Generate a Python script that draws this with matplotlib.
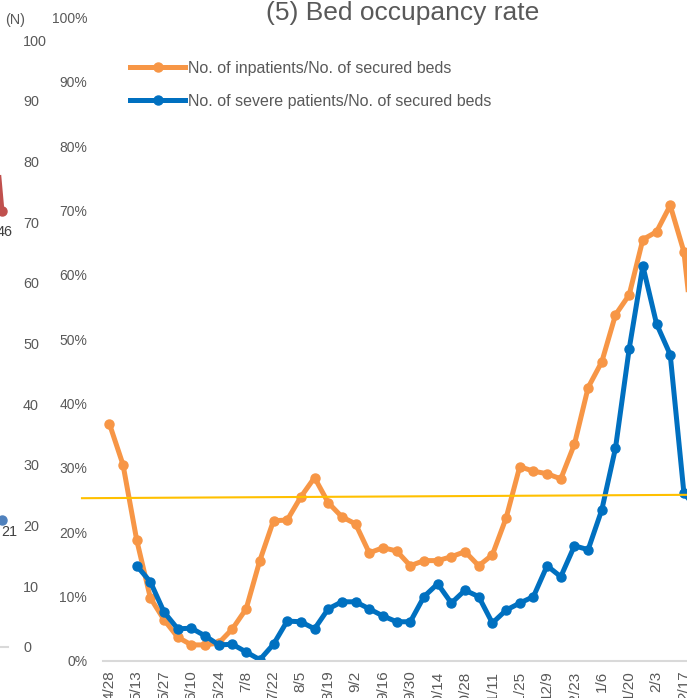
import numpy as np
import matplotlib.pyplot as plt
from matplotlib.lines import Line2D

plt.rcParams['font.family'] = ['Liberation Sans', 'DejaVu Sans']

# --- data -------------------------------------------------------------
TITLE = "(5) Bed occupancy rate"
LBL_INPAT = "No. of inpatients/No. of secured beds"
LBL_SEVERE = "No. of severe patients/No. of secured beds"

# weekly points, labels every second week
week_labels = ["4/28", "5/13", "5/27", "6/10", "6/24", "7/8", "7/22", "8/5",
               "8/19", "9/2", "9/16", "9/30", "10/14", "10/28", "11/11",
               "11/25", "12/9", "12/23", "1/6", "1/20", "2/3", "2/17"]

inpatients = [36.9, 30.5, 18.8, 9.8, 6.4, 3.7, 2.5, 2.5, 2.8, 5.0,
              8.1, 15.6, 21.8, 21.9, 25.5, 28.5, 24.6, 22.4, 21.3, 16.8,
              17.6, 17.1, 14.8, 15.6, 15.6, 16.2, 17.0, 14.8, 16.5, 22.2,
              30.2, 29.5, 29.1, 28.3, 33.7, 42.5, 46.5, 53.8, 56.9, 65.5,
              66.7, 70.8, 63.6, 44.0]

severe = [np.nan, np.nan, 14.8, 12.3, 7.6, 5.0, 5.1, 3.9, 2.5, 2.6,
          1.4, 0.2, 2.6, 6.2, 6.1, 5.0, 8.1, 9.2, 9.2, 8.1,
          7.0, 6.1, 6.1, 10.0, 12.0, 9.0, 11.0, 10.0, 5.9, 7.9,
          9.0, 10.0, 14.8, 13.1, 17.9, 17.3, 23.5, 33.1, 48.5, 61.4,
          52.4, 47.6, 26.1, 23.5]

# hand drawn reference line (start / end, in %)
thresh_x = [-2.0, 44.5]
thresh_y = [25.3, 25.85]

# neighbouring chart (only its right edge is visible)
n_left = 26
left_red = [60, 46]      # on its own hidden axis, 0..64
left_blue = [21]         # on the (N) axis

GRAY = '#595959'
ORANGE = '#F79646'
BLUE = '#0070C0'

W, H = 687, 698
fig = plt.figure(figsize=(W / 100, H / 100), dpi=100)

def fx(px):
    return px / W

def fy(py):
    return 1 - py / H

# --- main chart -------------------------------------------------------
n = len(inpatients)
step = 13.68
ax = fig.add_axes([fx(102.5), fy(661), fx(step * n), 643.5 / H])
x = np.arange(n)
ax.plot(x, inpatients, color=ORANGE, lw=3.6, marker='o', ms=6.5, label=LBL_INPAT,
        solid_joinstyle='round')
ax.plot(x, severe, color=BLUE, lw=3.6, marker='o', ms=6.5, label=LBL_SEVERE,
        solid_joinstyle='round')
ax.plot(thresh_x, thresh_y, color='#FFC000', lw=1.5, clip_on=False)

ax.set_xlim(-0.5, n - 0.5)
ax.set_ylim(0, 100)
ax.set_yticks(np.arange(0, 101, 10))
ax.set_yticklabels([f"{v}%" for v in range(0, 101, 10)])
ax.set_xticks(np.arange(0, 2 * len(week_labels), 2))
ax.set_xticklabels(week_labels, rotation=90, va='top')
ax.tick_params(axis='y', length=0, pad=11, labelsize=10, labelcolor=GRAY)
ax.tick_params(axis='x', length=0, pad=7, labelsize=11, labelcolor=GRAY)
for s in ['top', 'right', 'left']:
    ax.spines[s].set_visible(False)
ax.spines['bottom'].set_color('#D9D9D9')
ax.spines['bottom'].set_linewidth(1.5)

handles = [Line2D([], [], color=ORANGE, lw=3.6, marker='o', ms=6.5),
           Line2D([], [], color=BLUE, lw=3.6, marker='o', ms=6.5)]
leg = ax.legend(handles, [LBL_INPAT, LBL_SEVERE], loc='upper left',
                bbox_to_anchor=(fx(130), fy(61)), bbox_transform=fig.transFigure,
                frameon=False, fontsize=11.5, handlelength=3.45, handletextpad=0.15,
                borderpad=0, borderaxespad=0, labelspacing=1.1)
for t in leg.get_texts():
    t.set_color(GRAY)

fig.text(fx(403), fy(20), TITLE, ha='center', va='baseline', fontsize=19, color=GRAY)

# --- left neighbour chart ---------------------------------------------
lstep = 12
axl = fig.add_axes([fx(8 - lstep * n_left), fy(647), fx(lstep * n_left), 607 / H])
axl.set_xlim(-0.5, n_left - 0.5)
axl.set_ylim(0, 100)
axl.set_xticks([])
for s in ['top', 'right', 'left']:
    axl.spines[s].set_visible(False)
axl.spines['bottom'].set_color('#D9D9D9')
axl.spines['bottom'].set_linewidth(1.5)
axl.patch.set_alpha(0)

bx = n_left - len(left_blue) + np.arange(len(left_blue))
axl.plot(bx, left_blue, color='#4F81BD', marker='o', ms=6.5, lw=0)
axl.annotate(str(left_blue[-1]), (bx[-1], left_blue[-1]), xytext=(5, -9),
             textcoords='offset points', ha='center', va='center',
             fontsize=10.4, color='#404040', annotation_clip=False)

axr = axl.twinx()
axr.set_ylim(0, 64)
axr.axis('off')
rx = n_left - len(left_red) + np.arange(len(left_red))
axr.plot(rx, left_red, color='#C0504D', marker='o', ms=6.5, lw=3.5)
axr.annotate(str(left_red[-1]), (rx[-1], left_red[-1]), xytext=(2, -15),
             textcoords='offset points', ha='center', va='center',
             fontsize=10.4, color='#404040', annotation_clip=False)

# twinx moves the ticks to the left, so put the (N) scale back on the right
axl.yaxis.tick_right()
axl.set_yticks(np.arange(0, 101, 10))
axl.tick_params(axis='y', length=0, pad=10.8, labelsize=10.4, labelcolor=GRAY)

fig.text(fx(5), fy(20), "(N)", ha='left', va='center', fontsize=10.4, color=GRAY)

fig.savefig('out.png', dpi=100)
